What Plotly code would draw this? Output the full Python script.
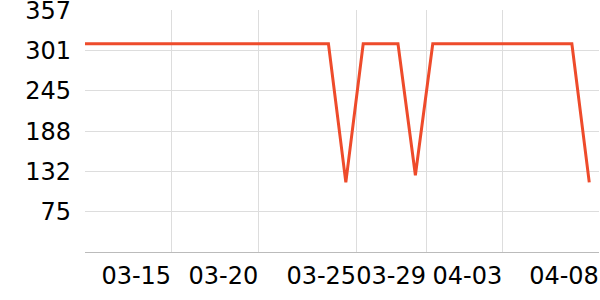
import plotly.graph_objects as go

# data: 30 samples (category index positions)
x_idx = list(range(30))
values = [310, 310, 310, 310, 310, 310, 310, 310, 310, 310,
          310, 310, 310, 310, 310, 116, 310, 310, 310, 126,
          310, 310, 310, 310, 310, 310, 310, 310, 310, 116]

# axis ticks
x_tickvals = [0, 4.96, 9.97, 15.6, 19.62, 24.0, 29.56]
x_ticktext = ["", "03-15", "03-20", "03-25", "03-29", "04-03", "04-08"]
y_tickvals = [18.6, 75, 131.4, 187.8, 244.2, 300.6, 357]
y_ticktext = ["", "75", "132", "188", "245", "301", "357"]

fig = go.Figure()
fig.add_trace(go.Scatter(x=x_idx, y=values, mode="lines",
                         line=dict(color="#EE4B2B", width=3)))

fig.update_layout(
    width=600, height=300,
    margin=dict(l=85, r=1, t=10, b=48, autoexpand=False),
    paper_bgcolor="white", plot_bgcolor="white",
    showlegend=False,
    font=dict(family="DejaVu Sans", size=24, color="black"),
)
fig.update_xaxes(range=[0, 29.56], tickvals=x_tickvals, ticktext=x_ticktext,
                 showgrid=True, gridcolor="#dddddd", gridwidth=1,
                 showline=True, linecolor="#bbbbbb", linewidth=1,
                 zeroline=False, ticks="", ticklabelshift=-35, tickangle=0,
                 automargin=False,
                 ticklabelstandoff=2, ticklabeloverflow="allow")
fig.update_yaxes(range=[18.6, 357.3], tickvals=y_tickvals, ticktext=y_ticktext,
                 showgrid=True, gridcolor="#dddddd", gridwidth=1,
                 showline=False, zeroline=False, ticks="", automargin=False,
                 ticklabelstandoff=13, ticklabeloverflow="allow")

fig.write_html("out.html")
